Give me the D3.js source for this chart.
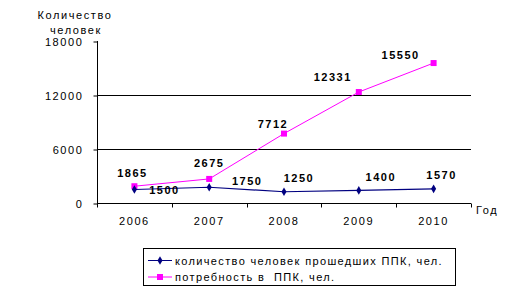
<!DOCTYPE html>
<meta charset="utf-8">
<style>

body {
  margin: 0;
  background: #fff;
}

text {
  font-family: Arial, "Liberation Sans", sans-serif;
  font-size: 11px;
  fill: #000;
  letter-spacing: 1.6px;
  white-space: pre;
}

.value {
  font-weight: bold;
  letter-spacing: 1.5px;
}

.domain, .tick line {
  stroke: #000;
}

</style>

<body>

<script src="https://cdn.jsdelivr.net/npm/d3@7"></script>
<script>

var years = ["2006", "2007", "2008", "2009", "2010"];
var passed = [1500, 1750, 1250, 1400, 1570];
var demand = [1865, 2675, 7712, 12331, 15550];
var yTicks = [0, 6000, 12000, 18000];

var seriesNames = [
  "количество человек прошедших ППК, чел.",
  "потребность в  ППК, чел."
];

// label offsets relative to the point, picked by eye
var passedLabelShift = [[30, 0], [38, -6], [15, -14], [22, -13], [8, -14]];
var demandLabelShift = [[-2, -13], [0, -16], [-11, -10], [-26, -15], [-33, -8]];

var width = 513, height = 291;
var plotLeft = 97, plotRight = 471, plotTop = 41, plotBottom = 203;

var svg = d3.select("body").append("svg")
    .attr("width", width)
    .attr("height", height);

var x = d3.scaleBand()
    .domain(years)
    .range([plotLeft, plotRight]);

var y = d3.scaleLinear()
    .domain([0, 18000])
    .range([plotBottom, plotTop]);

var cx = function(d, i) { return x(years[i]) + x.bandwidth() / 2; };

// grid lines
svg.append("g")
  .selectAll("line")
  .data(yTicks.filter(function(t) { return t > 0 && t < 18000; }))
  .enter().append("line")
    .attr("x1", plotLeft)
    .attr("x2", plotRight)
    .attr("y1", function(d) { return Math.round(y(d)) + 0.5; })
    .attr("y2", function(d) { return Math.round(y(d)) + 0.5; })
    .attr("stroke", "#000");

// y axis
var yAxis = svg.append("g")
    .attr("transform", "translate(" + (plotLeft + 0.5) + ",0.5)")
    .call(d3.axisLeft(y).tickValues(yTicks).tickSize(4).tickPadding(10)
      .tickFormat(d3.format("d")));

yAxis.selectAll("text").style("font-size", "11px");
yAxis.select(".domain").attr("d", "M0," + (plotTop - 0.5) + "V" + plotBottom);

// x axis with ticks on band edges
var xAxis = svg.append("g")
    .attr("transform", "translate(0," + (plotBottom + 0.5) + ")");

xAxis.append("line")
    .attr("x1", plotLeft)
    .attr("x2", plotRight)
    .attr("stroke", "#000");

xAxis.selectAll(".edge")
  .data(d3.range(years.length + 1))
  .enter().append("line")
    .attr("class", "edge")
    .attr("x1", function(i) { return Math.round(plotLeft + i * x.bandwidth()) + 0.5; })
    .attr("x2", function(i) { return Math.round(plotLeft + i * x.bandwidth()) + 0.5; })
    .attr("y1", 0)
    .attr("y2", 4)
    .attr("stroke", "#000");

xAxis.selectAll(".year")
  .data(years)
  .enter().append("text")
    .attr("class", "year")
    .attr("x", cx)
    .attr("y", 21)
    .attr("text-anchor", "middle")
    .text(function(d) { return d; });

svg.append("text")
    .attr("x", 476)
    .attr("y", 214)
    .text("Год");

// y title
svg.append("text")
    .attr("x", 75)
    .attr("y", 19)
    .attr("text-anchor", "middle")
    .text("Количество");
svg.append("text")
    .attr("x", 76)
    .attr("y", 34)
    .attr("text-anchor", "middle")
    .text("человек");

var line = d3.line()
    .x(cx)
    .y(function(d) { return y(d); });

// demand series
svg.append("path")
    .datum(demand)
    .attr("fill", "none")
    .attr("stroke", "#ff00ff")
    .attr("stroke-width", 1)
    .attr("d", line);

svg.selectAll(".sq")
  .data(demand)
  .enter().append("rect")
    .attr("class", "sq")
    .attr("x", function(d, i) { return cx(d, i) - 3; })
    .attr("y", function(d) { return y(d) - 3; })
    .attr("width", 6)
    .attr("height", 6)
    .attr("fill", "#ff00ff");

// passed series
svg.append("path")
    .datum(passed)
    .attr("fill", "none")
    .attr("stroke", "#000080")
    .attr("stroke-width", 1.2)
    .attr("d", line);

var diamond = d3.symbol().type(d3.symbolDiamond).size(22);

svg.selectAll(".dm")
  .data(passed)
  .enter().append("path")
    .attr("class", "dm")
    .attr("transform", function(d, i) { return "translate(" + cx(d, i) + "," + y(d) + ")"; })
    .attr("d", diamond)
    .attr("fill", "#000080");

// value labels
svg.selectAll(".vd")
  .data(demand)
  .enter().append("text")
    .attr("class", "value vd")
    .attr("x", function(d, i) { return cx(d, i) + demandLabelShift[i][0]; })
    .attr("y", function(d, i) { return y(d) + demandLabelShift[i][1] + 4; })
    .attr("text-anchor", "middle")
    .text(function(d) { return d; });

svg.selectAll(".vp")
  .data(passed)
  .enter().append("text")
    .attr("class", "value vp")
    .attr("x", function(d, i) { return cx(d, i) + passedLabelShift[i][0]; })
    .attr("y", function(d, i) { return y(d) + passedLabelShift[i][1] + 4; })
    .attr("text-anchor", "middle")
    .text(function(d) { return d; });

// legend
var legend = svg.append("g");

legend.append("rect")
    .attr("x", 143.5)
    .attr("y", 248.5)
    .attr("width", 312)
    .attr("height", 37)
    .attr("fill", "#fff")
    .attr("stroke", "#000");

var entries = legend.selectAll(".entry")
  .data(seriesNames)
  .enter().append("g")
    .attr("class", "entry")
    .attr("transform", function(d, i) { return "translate(0," + (260.5 + i * 16.5) + ")"; });

entries.append("line")
    .attr("x1", 148)
    .attr("x2", 172)
    .attr("stroke", function(d, i) { return i ? "#ff00ff" : "#000080"; });

entries.each(function(d, i) {
  var g = d3.select(this);
  if (i) {
    g.append("rect").attr("x", 157).attr("y", -3).attr("width", 6).attr("height", 6)
      .attr("fill", "#ff00ff");
  } else {
    g.append("path").attr("transform", "translate(160,0)").attr("d", diamond)
      .attr("fill", "#000080");
  }
});

entries.append("text")
    .attr("x", 175)
    .attr("y", 4)
    .style("letter-spacing", "1.35px")
    .text(function(d) { return d; });

</script>
</body>
